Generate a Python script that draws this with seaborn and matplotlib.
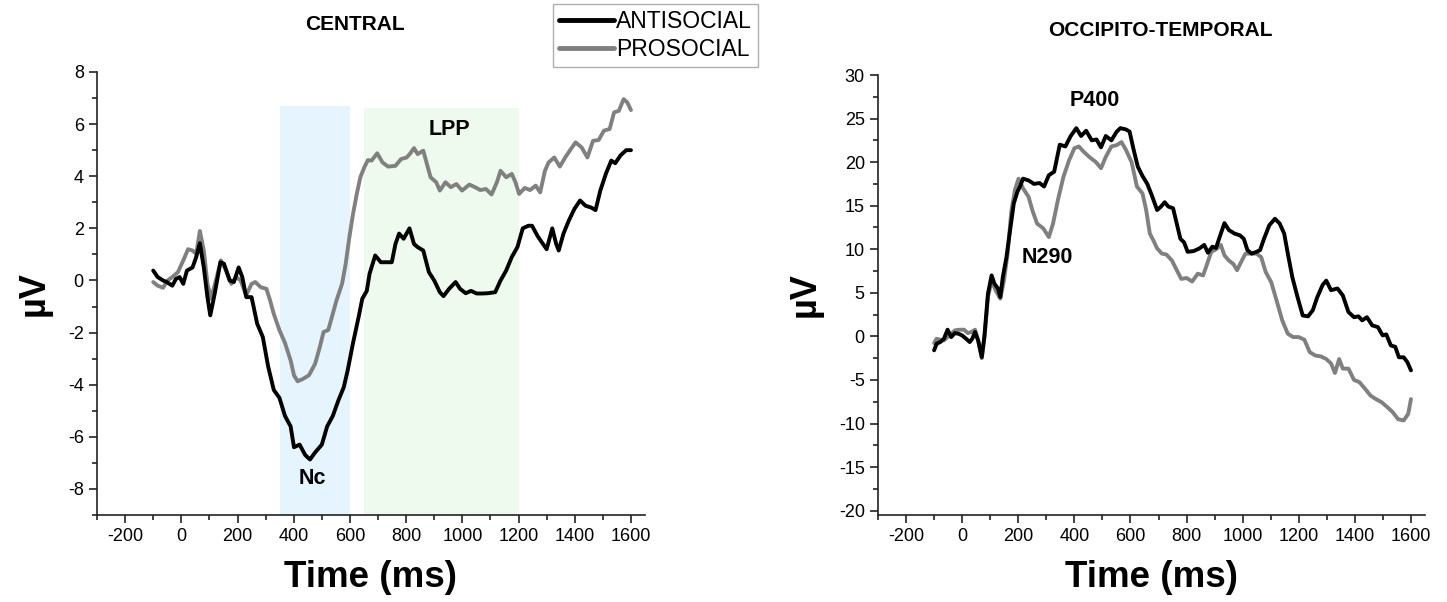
import numpy as np
import pandas as pd
import matplotlib
matplotlib.use("Agg")
import matplotlib.pyplot as plt
from matplotlib.ticker import MultipleLocator
from matplotlib.lines import Line2D
import seaborn as sns

# ---------------- data ----------------
central_anti_t = [-100, -84, -65, -52, -32, -19, -6, 7, 20, 40, 53, 66, 80, 93, 103, 119, 139, 152, 172, 187,
                  204, 217, 231, 250, 270, 290, 309, 329, 349, 369, 389, 401, 421, 441, 458, 476, 500, 519, 539,
                  559, 578, 592, 611, 631, 644, 660, 670, 690, 710, 729, 749, 762, 775, 791, 812, 828, 841, 861,
                  881, 900, 920, 933, 953, 976, 992, 1012, 1031, 1051, 1071, 1090, 1117, 1136, 1156, 1176, 1196,
                  1215, 1235, 1248, 1268, 1287, 1300, 1320, 1334, 1343, 1360, 1379, 1399, 1419, 1438, 1458, 1474,
                  1491, 1511, 1530, 1544, 1563, 1583, 1600]
central_anti_v = [0.38, 0.13, 0.0, -0.06, -0.2, 0.06, 0.13, -0.13, 0.38, 0.5, 0.9, 1.43, 0.5, -0.64, -1.34, -0.5,
                  0.7, 0.64, 0.0, -0.06, 0.5, 0.13, -0.64, -0.64, -1.66, -2.17, -3.3, -4.2, -4.5, -5.2, -5.6, -6.4,
                  -6.3, -6.7, -6.87, -6.6, -6.3, -5.6, -5.2, -4.6, -4.1, -3.45, -2.4, -1.4, -0.7, -0.4, 0.26, 0.96,
                  0.7, 0.7, 0.7, 1.4, 1.8, 1.6, 2.0, 1.4, 1.28, 1.15, 0.32, 0.0, -0.45, -0.6, -0.32, -0.06, -0.32,
                  -0.49, -0.4, -0.5, -0.5, -0.49, -0.45, 0.0, 0.38, 0.9, 1.28, 2.0, 2.1, 2.1, 1.7, 1.4, 1.2, 2.0,
                  1.4, 1.15, 1.8, 2.3, 2.75, 3.07, 2.87, 2.8, 2.7, 3.45, 4.1, 4.6, 4.5, 4.8, 5.0, 5.0]

central_pro_t = [-100, -84, -65, -49, -32, -12, 7, 24, 40, 53, 66, 80, 93, 106, 126, 141, 159, 178, 195, 211, 231,
                 250, 263, 283, 303, 316, 329, 349, 369, 389, 401, 414, 434, 454, 476, 493, 506, 523, 539, 552, 572,
                 585, 598, 611, 624, 637, 651, 664, 677, 697, 716, 736, 762, 782, 802, 815, 828, 841, 861, 874, 887,
                 907, 920, 940, 959, 979, 999, 1025, 1045, 1064, 1084, 1104, 1123, 1136, 1156, 1176, 1189, 1202,
                 1222, 1241, 1261, 1277, 1294, 1307, 1327, 1347, 1366, 1386, 1403, 1425, 1445, 1465, 1485, 1504,
                 1524, 1540, 1557, 1574, 1587, 1600]
central_pro_v = [-0.06, -0.2, -0.28, 0.0, 0.13, 0.32, 0.77, 1.2, 1.15, 1.02, 1.9, 1.15, -0.13, -0.7, 0.13, 0.77,
                 0.38, -0.13, 0.13, 0.0, -0.57, -0.13, -0.06, -0.26, -0.32, -0.77, -1.28, -1.9, -2.4, -3.07, -3.64,
                 -3.87, -3.77, -3.64, -3.2, -2.55, -1.98, -1.9, -1.28, -0.77, -0.13, 0.64, 1.66, 2.55, 3.3, 3.96,
                 4.34, 4.62, 4.6, 4.88, 4.53, 4.37, 4.4, 4.66, 4.72, 4.88, 5.08, 4.85, 4.98, 4.47, 3.96, 3.77, 3.45,
                 3.77, 3.58, 3.7, 3.45, 3.68, 3.58, 3.47, 3.51, 3.3, 3.77, 4.21, 3.96, 4.09, 3.77, 3.32, 3.55, 3.47,
                 3.64, 3.38, 4.21, 4.53, 4.72, 4.37, 4.72, 5.04, 5.3, 5.1, 4.72, 5.36, 5.39, 5.75, 5.81, 6.45, 6.51,
                 6.96, 6.83, 6.54]

occ_anti_t = [-100, -91, -78, -65, -52, -39, -26, -13, 0, 14, 27, 36, 46, 57, 70, 79, 92, 105, 115, 128, 136, 145,
              158, 171, 184, 197, 206, 217, 237, 256, 276, 292, 309, 328, 348, 368, 387, 407, 424, 442, 462, 479,
              495, 512, 532, 551, 564, 584, 597, 610, 626, 643, 660, 676, 695, 709, 722, 735, 752, 765, 778, 791,
              804, 826, 846, 863, 876, 892, 905, 918, 935, 951, 971, 990, 1004, 1017, 1032, 1049, 1062, 1076, 1095,
              1115, 1132, 1148, 1161, 1177, 1194, 1214, 1233, 1250, 1266, 1285, 1298, 1315, 1338, 1357, 1377, 1397,
              1413, 1426, 1443, 1462, 1482, 1499, 1512, 1528, 1544, 1557, 1574, 1587, 1600]
occ_anti_v = [-1.6, -0.84, -0.65, -0.27, 0.77, -0.08, 0.38, 0.3, 0.11, -0.27, -0.65, -0.27, 0.5, -0.46, -2.37,
              -0.08, 4.9, 7.0, 6.05, 5.48, 4.52, 6.82, 9.12, 12.2, 15.25, 16.6, 17.2, 18.1, 17.9, 17.5, 17.6, 17.2,
              18.5, 18.9, 22.0, 21.8, 23.0, 23.9, 23.0, 23.6, 22.5, 22.6, 21.7, 23.0, 22.5, 23.5, 23.9, 23.75, 23.5,
              21.6, 19.5, 18.4, 17.5, 16.2, 14.5, 14.9, 15.4, 14.9, 14.7, 12.95, 11.2, 10.8, 9.7, 9.8, 10.1, 10.5,
              9.6, 10.3, 10.15, 11.4, 13.0, 12.2, 11.8, 11.6, 11.2, 9.9, 9.5, 9.7, 9.9, 11.2, 12.76, 13.5, 12.95,
              11.8, 9.5, 6.8, 4.7, 2.4, 2.3, 3.0, 4.5, 5.9, 6.4, 5.3, 5.5, 4.7, 2.8, 2.2, 2.3, 1.84, 2.2, 1.26,
              1.07, 0.11, 0.23, -1.03, -1.2, -2.4, -2.4, -2.95, -3.9]

occ_pro_t = [-100, -91, -78, -65, -45, -26, -9, 7, 20, 33, 46, 57, 70, 81, 92, 105, 119, 136, 149, 162, 175, 188,
             201, 217, 237, 250, 267, 289, 309, 324, 341, 361, 381, 400, 416, 433, 453, 477, 495, 512, 532, 551, 568,
             584, 604, 623, 643, 656, 669, 682, 695, 712, 728, 748, 765, 781, 800, 820, 840, 859, 872, 888, 905,
             922, 935, 951, 967, 980, 997, 1010, 1030, 1049, 1066, 1082, 1102, 1121, 1141, 1161, 1180, 1200, 1220,
             1239, 1259, 1279, 1298, 1315, 1329, 1344, 1357, 1377, 1397, 1416, 1436, 1456, 1475, 1495, 1515, 1535,
             1554, 1574, 1590, 1600]
occ_pro_v = [-0.77, -0.27, -0.38, -0.46, 0.11, 0.69, 0.77, 0.77, 0.38, 0.5, 0.77, -0.46, -2.5, 0.3, 4.5, 6.4, 5.3,
             4.33, 6.4, 9.5, 14.3, 16.8, 18.1, 17.0, 16.0, 14.5, 12.95, 12.4, 11.4, 12.95, 15.6, 18.3, 20.2, 21.6,
             21.8, 21.2, 20.6, 20.0, 19.3, 20.6, 21.8, 21.95, 22.3, 21.4, 20.0, 17.2, 16.4, 14.5, 11.8, 11.0, 10.1,
             9.5, 9.4, 8.7, 7.6, 6.6, 6.7, 6.3, 7.2, 7.0, 8.2, 9.7, 10.0, 10.5, 9.3, 8.7, 8.3, 7.6, 8.7, 9.5, 9.5,
             9.5, 9.1, 7.4, 6.2, 4.1, 1.84, 0.3, -0.08, -0.08, -0.38, -1.8, -2.2, -2.3, -2.6, -3.1, -4.2, -2.6,
             -3.7, -3.7, -5.0, -5.25, -6.0, -6.8, -7.2, -7.55, -8.1, -8.7, -9.5, -9.65, -8.9, -7.2]

series_names = ["ANTISOCIAL", "PROSOCIAL"]
panel_titles = ["CENTRAL", "OCCIPITO-TEMPORAL"]
nc_window = [350, 600]
lpp_window = [650, 1200]
window_top = [6.7, 6.6]
x_ticks = [-200, 0, 200, 400, 600, 800, 1000, 1200, 1400, 1600]

# ---------------- style ----------------
sns.set_theme(style="ticks")
plt.rcParams["font.family"] = ["Liberation Sans", "DejaVu Sans"]
plt.rcParams["axes.linewidth"] = 1.2
plt.rcParams["axes.unicode_minus"] = False
plt.rcParams["text.color"] = "black"
plt.rcParams["axes.labelcolor"] = "black"

W, H = 1447, 602
fig = plt.figure(figsize=(W / 100, H / 100), dpi=100)
ax1 = fig.add_axes([97 / W, 1 - 515 / H, (645 - 97) / W, (515 - 72) / H])
ax2 = fig.add_axes([878 / W, 1 - 515 / H, (1425 - 878) / W, (515 - 75) / H])

colors = {"ANTISOCIAL": "#000000", "PROSOCIAL": "#808080"}


def make_df(ta, va, tp, vp):
    return pd.concat([
        pd.DataFrame({"t": ta, "v": va, "cond": series_names[0]}),
        pd.DataFrame({"t": tp, "v": vp, "cond": series_names[1]}),
    ], ignore_index=True)


df_c = make_df(central_anti_t, central_anti_v, central_pro_t, central_pro_v)
df_o = make_df(occ_anti_t, occ_anti_v, occ_pro_t, occ_pro_v)

# shaded windows (central)
ax1.fill_between(nc_window, -9, window_top[0], color="#e6f4fe", lw=0, zorder=0)
ax1.fill_between(lpp_window, -9, window_top[1], color="#eefaee", lw=0, zorder=0)

for ax, df in [(ax1, df_c), (ax2, df_o)]:
    sns.lineplot(data=df, x="t", y="v", hue="cond", palette=colors, estimator=None,
                 sort=False, lw=2.8, ax=ax, legend=False, hue_order=series_names[::-1])

# axes formatting
ax1.set_xlim(-300, 1650)
ax1.set_ylim(-9, 8)
ax1.yaxis.set_major_locator(MultipleLocator(2))
ax1.yaxis.set_minor_locator(MultipleLocator(1))
ax2.set_xlim(-300, 1650)
ax2.set_ylim(-20.5, 30)
ax2.set_yticks(np.arange(-20, 31, 5))
ax2.yaxis.set_minor_locator(MultipleLocator(2.5))

for ax in (ax1, ax2):
    ax.set_xticks(x_ticks)
    ax.xaxis.set_minor_locator(MultipleLocator(100))
    ax.tick_params(which="major", length=6, width=1.2, labelsize=13, colors="#222222", labelcolor="black")
    ax.tick_params(which="minor", length=3.5, width=1.2, colors="#222222")
    sns.despine(ax=ax)
    ax.spines["left"].set_color("#222222")
    ax.spines["bottom"].set_color("#222222")
    ax.set_xlabel("Time (ms)", fontsize=26.5, fontweight="bold", labelpad=11)
    ax.set_ylabel("µV", fontsize=26, fontweight="bold", labelpad=12)

# panel titles
fig.text(355 / W, 1 - 25 / H, panel_titles[0], ha="center", va="center", fontsize=15, fontweight="bold")
fig.text(1160 / W, 1 - 30 / H, panel_titles[1], ha="center", va="center", fontsize=15, fontweight="bold")

# component labels
ax1.text(465, -7.6, "Nc", ha="center", va="center", fontsize=15.5, fontweight="bold")
ax1.text(955, 5.8, "LPP", ha="center", va="center", fontsize=15.5, fontweight="bold")
ax2.text(473, 27.1, "P400", ha="center", va="center", fontsize=15.5, fontweight="bold")
ax2.text(302, 9.1, "N290", ha="center", va="center", fontsize=15.5, fontweight="bold")

# legend
handles = [Line2D([], [], color=colors[n], lw=3.5) for n in series_names]
leg = fig.legend(handles, series_names, loc="upper left", bbox_to_anchor=(553 / W, 1 - 4 / H),
                 frameon=True, fancybox=False, fontsize=16.5, handlelength=2.4, handletextpad=0.1,
                 borderpad=0.25, labelspacing=0.22, borderaxespad=0)
leg.get_frame().set_edgecolor("#999999")
leg.get_frame().set_linewidth(1.0)

fig.savefig("out.png", dpi=100)
